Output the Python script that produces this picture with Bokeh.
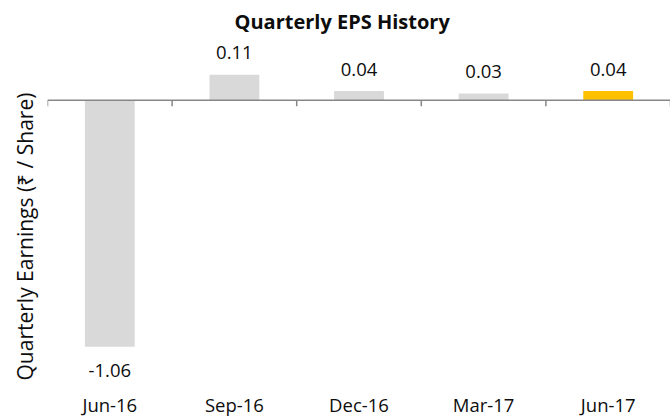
import math
from bokeh.plotting import figure
from bokeh.models import Range1d, Span, Title, ColumnDataSource
from bokeh.core.properties import value
from bokeh.embed import file_html
from bokeh.resources import INLINE

# ---- data ----
quarters = ["Jun-16", "Sep-16", "Dec-16", "Mar-17", "Jun-17"]
eps = [-1.06, 0.11, 0.04, 0.03, 0.04]
bar_colors = ["#D9D9D9", "#D9D9D9", "#D9D9D9", "#D9D9D9", "#FFC000"]
title_text = "Quarterly EPS History"
y_label = "Quarterly Earnings (\u20b9 / Share)"

FONT = "Open Sans"
TEXT = "#0d0d0d"
AXIS = "#878787"

Y_START, Y_END = -1.365, 0.262

xs = [i + 0.5 for i in range(len(quarters))]
bounds = [float(i) for i in range(len(quarters) + 1)]

src = ColumnDataSource(dict(
    x=xs, top=eps, color=bar_colors,
    label=["{:.2f}".format(v) for v in eps],
    yoff=[-22 if v >= 0 else 24 for v in eps],
))
cat_src = ColumnDataSource(dict(x=xs, y=[Y_START] * len(xs), text=quarters))

p = figure(width=670, height=417, output_backend="svg", toolbar_location=None,
           x_range=Range1d(0, len(quarters)), y_range=Range1d(Y_START, Y_END),
           min_border_left=44, min_border_right=0, min_border_top=36, min_border_bottom=0)

p.title.text = title_text
p.title.align = "left"
p.title.offset = 187
p.title.text_font = FONT
p.title.text_font_size = "20px"
p.title.text_font_style = "bold"
p.title.text_color = TEXT

ylab = Title(text=y_label, align="left", offset=37, text_font=FONT,
             text_font_size="21px", text_font_style="normal", text_color=TEXT)
if "standoff" in Title.properties():
    ylab.standoff = 17
p.add_layout(ylab, "left")

p.outline_line_color = None
p.xgrid.visible = False
p.ygrid.visible = False
p.xaxis.visible = False
p.yaxis.visible = False

p.vbar(x="x", top="top", bottom=0, width=0.4, color="color", line_color=None, source=src)

p.add_layout(Span(location=0, dimension="width", line_color=AXIS, line_width=1.5))
p.ray(x=bounds, y=[0] * len(bounds), length=6, angle=-math.pi / 2,
      length_units="screen", line_color=AXIS, line_width=1.5)

p.text(x="x", y="top", text="label", y_offset="yoff", source=src,
       text_align="center", text_baseline="middle",
       text_font=value(FONT), text_font_size="18.5px", text_color=TEXT)

# category labels along the bottom edge
p.text(x="x", y="y", text="text", source=cat_src, y_offset=-1,
       text_align="center", text_baseline="bottom",
       text_font=value(FONT), text_font_size="18.5px", text_color=TEXT)

open("out.html", "w").write(file_html(p, INLINE))
